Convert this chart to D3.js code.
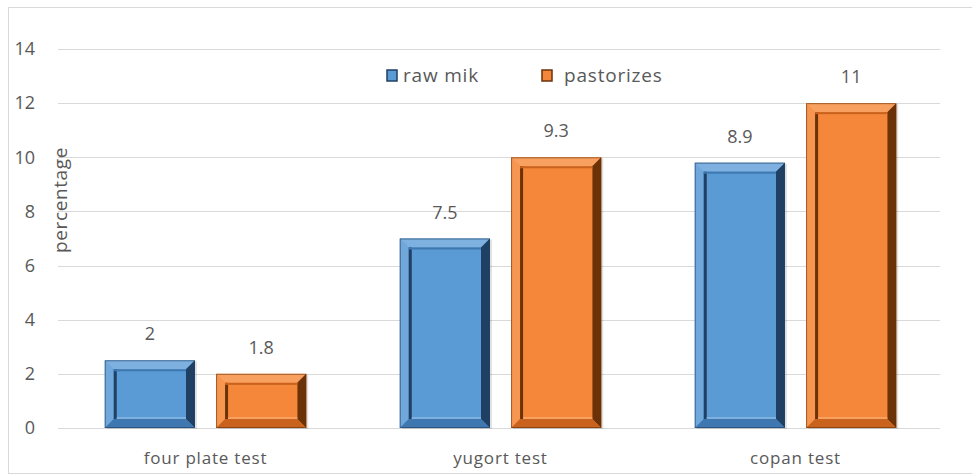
<!DOCTYPE html>
<html>
<head>
<meta charset="utf-8">
<script src="https://cdn.jsdelivr.net/npm/d3@7"></script>
<style>
  body { margin: 0; background: #fff; }
  text { font-family: "Open Sans", sans-serif; fill: #595959; }
</style>
</head>
<body>
<div class="chart"></div>
<script>
const categories = ["four plate test", "yugort test", "copan test"]
const series = ["raw mik", "pastorizes"]
// bar heights as drawn
const rawMilk = [2.5, 7, 9.8]
const pastorized = [2, 10, 12]
// data labels as printed
const rawLabels = ["2", "7.5", "8.9"]
const pastLabels = ["1.8", "9.3", "11"]
const yTicks = [0, 2, 4, 6, 8, 10, 12, 14]

const colors = {
    "raw mik": { main: "#5b9bd5", light: "#7fb1e0", dark: "#1f3f63", mid: "#3f78b0" },
    "pastorizes": { main: "#f5873a", light: "#f8a060", dark: "#6b3208", mid: "#c8621c" },
}

const dimensions = {
    width: 972,
    height: 475,
    margin: { top: 49, right: 29, bottom: 47, left: 58 },
}
dimensions.boundedWidth = dimensions.width - dimensions.margin.left - dimensions.margin.right
dimensions.boundedHeight = dimensions.height - dimensions.margin.top - dimensions.margin.bottom

const data = categories.map((c, i) => ({
    category: c,
    bars: [
        { key: series[0], value: rawMilk[i], label: rawLabels[i] },
        { key: series[1], value: pastorized[i], label: pastLabels[i] },
    ]
}))

const wrapper = d3.select(".chart")
    .append("svg")
    .attr("width", dimensions.width)
    .attr("height", dimensions.height)

// chart border
wrapper.append("rect")
    .attr("x", 8.5).attr("y", 7.5)
    .attr("width", 975).attr("height", 466)
    .attr("fill", "none")
    .attr("stroke", "#d9d9d9")

const bounds = wrapper.append("g")
    .attr("transform", `translate(${dimensions.margin.left},${dimensions.margin.top})`)

const x0 = d3.scaleBand()
    .domain(categories)
    .range([0, dimensions.boundedWidth])

const x1 = d3.scaleBand()
    .domain(series)
    .range([0, x0.bandwidth()])
    .paddingInner(0.19)
    .paddingOuter(0.42)

const y = d3.scaleLinear()
    .domain([0, 14])
    .range([dimensions.boundedHeight, 0])

// grid
bounds.append("g")
    .selectAll("line")
    .data(yTicks)
    .join("line")
    .attr("x1", 0)
    .attr("x2", dimensions.boundedWidth - 3)
    .attr("y1", d => Math.round(y(d)) + 0.5)
    .attr("y2", d => Math.round(y(d)) + 0.5)
    .attr("stroke", "#d9d9d9")
    .attr("stroke-width", 1)

// y tick labels
bounds.append("g")
    .selectAll("text")
    .data(yTicks)
    .join("text")
    .attr("x", -23)
    .attr("y", d => y(d))
    .attr("dy", "0.35em")
    .attr("text-anchor", "end")
    .style("font-size", "18px")
    .text(d => d)

// bevelled bars
const groups = bounds.selectAll(".group")
    .data(data)
    .join("g")
    .attr("class", "group")
    .attr("transform", d => `translate(${x0(d.category)},0)`)

const bars = groups.selectAll(".bar")
    .data(d => d.bars)
    .join("g")
    .attr("class", "bar")

bars.each(function(d) {
    const g = d3.select(this)
    const c = colors[d.key]
    const x = x1(d.key)
    const w = x1.bandwidth()
    const top = y(d.value)
    const h = y(0) - top
    const b = Math.min(9, h / 3)
    const x2 = x + w, y2 = top + h
    const poly = pts => pts.map(p => p.join(",")).join(" ")

    // soft shadow
    g.append("rect")
        .attr("x", x + 2).attr("y", top + 1)
        .attr("width", w).attr("height", h)
        .attr("fill", "#000").attr("opacity", 0.12)

    g.append("rect")
        .attr("x", x).attr("y", top)
        .attr("width", w).attr("height", h)
        .attr("fill", c.main)

    // outer frame
    g.append("polygon").attr("points", poly([[x, top], [x2, top], [x2 - b, top + b], [x + b, top + b]]))
        .attr("fill", c.light)
    g.append("polygon").attr("points", poly([[x, top], [x + b, top + b], [x + b, y2 - b], [x, y2]]))
        .attr("fill", c.light).attr("opacity", 0.6)
    g.append("polygon").attr("points", poly([[x2, top], [x2, y2], [x2 - b, y2 - b], [x2 - b, top + b]]))
        .attr("fill", c.dark)
    g.append("polygon").attr("points", poly([[x, y2], [x2, y2], [x2 - b, y2 - b], [x + b, y2 - b]]))
        .attr("fill", c.mid)

    // inner inset edges
    const ix = x + b, iy = top + b, iw = w - 2 * b, ih = h - 2 * b
    g.append("rect")
        .attr("x", ix).attr("y", iy).attr("width", iw).attr("height", ih)
        .attr("fill", c.main)
    g.append("rect")
        .attr("x", ix).attr("y", iy).attr("width", 3).attr("height", ih)
        .attr("fill", c.dark)
    g.append("rect")
        .attr("x", ix).attr("y", iy).attr("width", iw).attr("height", 2)
        .attr("fill", c.mid)
    g.append("rect")
        .attr("x", ix + 3).attr("y", iy + ih - 2).attr("width", iw - 3).attr("height", 2)
        .attr("fill", c.light)

    g.append("rect")
        .attr("x", x + 0.5).attr("y", top + 0.5)
        .attr("width", w - 1).attr("height", h - 1)
        .attr("fill", "none")
        .attr("stroke", c.dark).attr("stroke-opacity", 0.6)
})

// data labels
bars.append("text")
    .attr("x", d => x1(d.key) + x1.bandwidth() / 2)
    .attr("y", d => y(d.value) - 20)
    .attr("text-anchor", "middle")
    .style("font-size", "18px")
    .text(d => d.label)

// category labels
bounds.append("g")
    .selectAll("text")
    .data(categories)
    .join("text")
    .attr("x", d => x0(d) + x0.bandwidth() / 2)
    .attr("y", dimensions.boundedHeight + 36)
    .attr("text-anchor", "middle")
    .style("font-size", "17px")
    .style("letter-spacing", "0.8px")
    .text(d => d)

// y axis title
wrapper.append("text")
    .attr("transform", `translate(67,200) rotate(-90)`)
    .attr("text-anchor", "middle")
    .style("font-size", "19px")
    .style("letter-spacing", "0.6px")
    .text("percentage")

// legend
const legendX = [387, 542]
const legendTextX = [16, 22]
const legend = wrapper.append("g")
    .selectAll("g")
    .data(series)
    .join("g")
    .attr("transform", (d, i) => `translate(${legendX[i]},70)`)

legend.append("rect")
    .attr("width", 10).attr("height", 11)
    .attr("fill", d => colors[d].main)
    .attr("stroke", d => colors[d].dark)
    .attr("stroke-width", 1.5)

legend.append("text")
    .attr("x", (d, i) => legendTextX[i])
    .attr("y", 12)
    .style("font-size", "19px")
    .style("letter-spacing", "0.8px")
    .text(d => d)
</script>
</body>
</html>
